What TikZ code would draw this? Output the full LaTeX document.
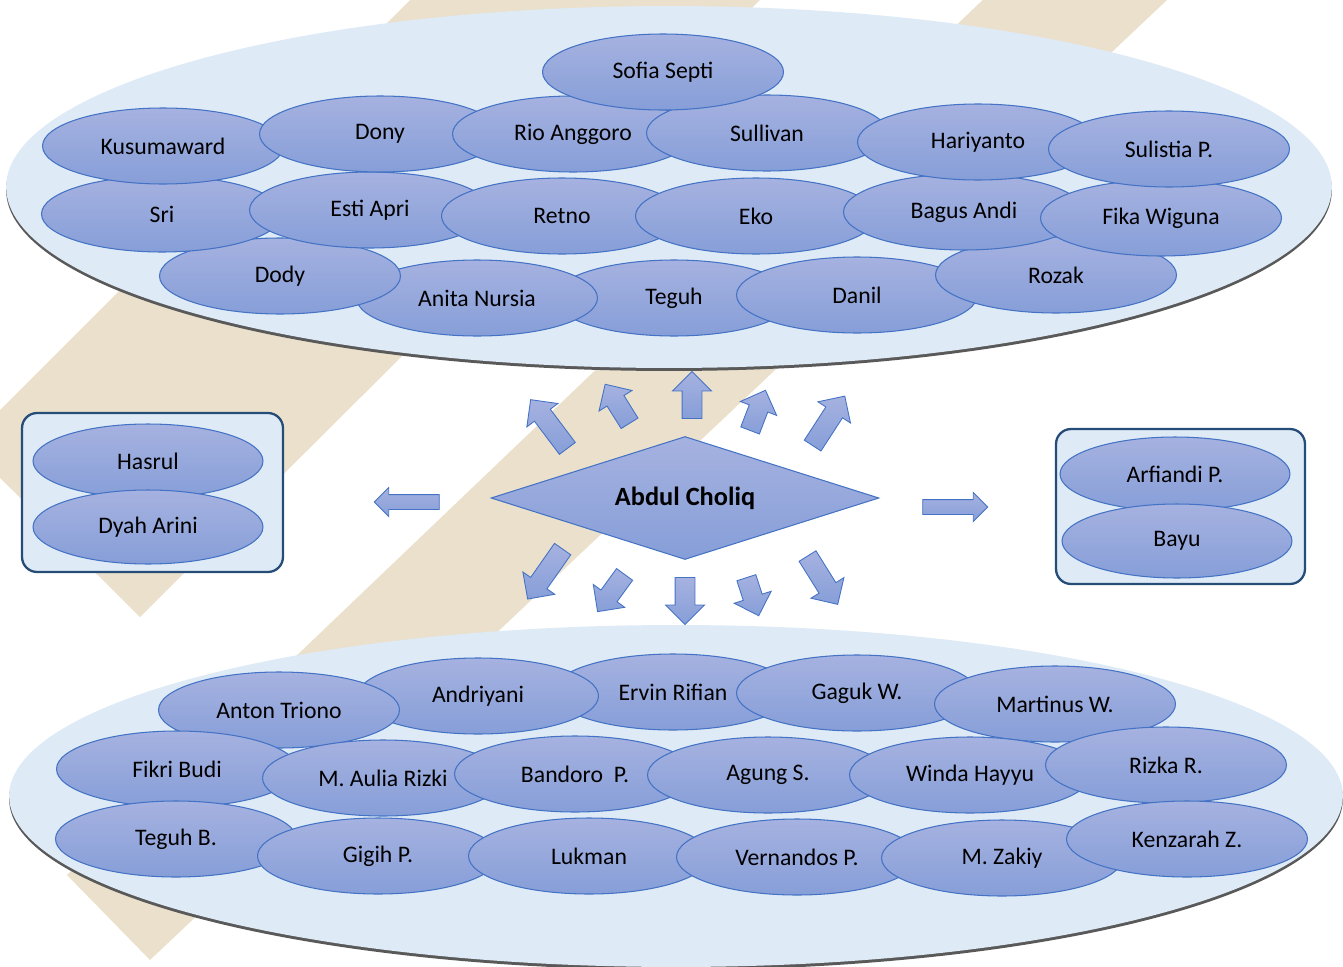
\documentclass[tikz,border=0pt]{standalone}
\usepackage{fontspec}
\setmainfont{Carlito}
\usetikzlibrary{shapes.geometric,shapes.arrows,positioning}
\definecolor{stripe}{RGB}{234,224,204}
\definecolor{plate}{RGB}{222,234,246}
\definecolor{plateshadow}{RGB}{89,89,89}
\definecolor{rim}{RGB}{68,114,196}
\definecolor{bubtop}{RGB}{166,178,224}
\definecolor{bubbot}{RGB}{134,158,216}
\definecolor{boxrim}{RGB}{38,76,120}

\begin{document}
\begin{tikzpicture}[x=0.02cm,y=-0.02cm,
member/.style={ellipse,draw=rim,line width=0.6pt,top color=bubtop,bottom color=bubbot,minimum width=4.82cm,minimum height=1.52cm,inner sep=0pt,font=\fontsize{13.5}{16}\selectfont},
sidemember/.style={member,minimum width=4.6cm,minimum height=1.48cm},
hub/.style={diamond,aspect=3.15,draw=rim,line width=0.6pt,top color=bubtop,bottom color=bubbot,minimum width=7.76cm,minimum height=2.46cm,inner sep=0pt,font=\fontsize{15}{18}\selectfont\bfseries},
group/.style={draw=boxrim,line width=1.3pt,fill=plate,rounded corners=0.3cm,inner sep=0pt},
blockarr/.style={single arrow,draw=rim,line width=0.5pt,top color=bubtop,bottom color=bubbot,single arrow tip angle=90,inner sep=0.19cm,single arrow head extend=0.19cm,minimum width=0.76cm},
sidearr/.style={blockarr,inner sep=0.14cm,single arrow head extend=0.14cm,minimum width=0.56cm,minimum height=1.3cm}]
\useasboundingbox (0,0) rectangle (1343,967);
% background stripes
\begin{scope}
\clip (0,0) rectangle (1343,967);
\fill[stripe] (460,-50) -- (810,-50) -- (140,617) -- (-34,444) -- cycle;
\fill[stripe] (1035,-50) -- (1220,-50) -- (150,960) -- (67,875) -- cycle;
\end{scope}
% plates
\fill[plateshadow] (669,190) ellipse [x radius=13.26cm,y radius=3.62cm];
\fill[plate] (669,187) ellipse [x radius=13.26cm,y radius=3.62cm];
\fill[plateshadow] (676,799) ellipse [x radius=13.34cm,y radius=3.42cm];
\fill[plate] (676,796) ellipse [x radius=13.34cm,y radius=3.42cm];
% upper group
\node[member] (teguh) at (674,298) {Teguh};
\node[member] (danil) at (857,295) {Danil};
\node[member] (rozak) at (1056,275) {Rozak};
\node[member] (anita) at (477,298) {Anita Nursia};
\node[member] (dody) at (280,276) {Dody};
\node[member] (sri) at (162,214) {Sri};
\node[member] (esti) at (370,210) {Esti Apri};
\node[member] (retno) at (562,216) {Retno};
\node[member] (eko) at (756,216) {Eko};
\node[member] (bagus) at (964,212) {Bagus Andi};
\node[member] (fika) at (1161,218) {Fika Wiguna};
\node[member] (kusuma) at (163,146) {Kusumaward};
\node[member] (dony) at (380,134) {Dony};
\node[member] (rio) at (573,134) {Rio Anggoro};
\node[member] (sullivan) at (767,133) {Sullivan};
\node[member] (hariyanto) at (978,142) {Hariyanto};
\node[member] (sulistia) at (1169,149) {Sulistia P.};
\node[member] (sofia) at (663,72) {Sofia Septi};
% lower group
\node[member] (ervin) at (673,692) {Ervin Rifian};
\node[member] (gaguk) at (857,693) {Gaguk W.};
\node[member] (martinus) at (1055,704) {Martinus W.};
\node[member] (andriyani) at (478,696) {Andriyani};
\node[member] (anton) at (279,710) {Anton Triono};
\node[member] (fikri) at (177,769) {Fikri Budi};
\node[member] (aulia) at (383,778) {M. Aulia Rizki};
\node[member] (bandoro) at (575,774) {Bandoro\ \ P.};
\node[member] (agung) at (768,775) {Agung S.};
\node[member] (winda) at (970,775) {Winda Hayyu};
\node[member] (rizka) at (1166,765) {Rizka R.};
\node[member] (teguhb) at (176,839) {Teguh B.};
\node[member] (gigih) at (378,856) {Gigih P.};
\node[member] (lukman) at (589,856) {Lukman};
\node[member] (vernandos) at (797,857) {Vernandos P.};
\node[member] (zakiy) at (1002,858) {M. Zakiy};
\node[member] (kenzarah) at (1187,839) {Kenzarah Z.};
% side groups
\node[group,minimum width=5.22cm,minimum height=3.18cm] (leftbox) at (152.5,492.5) {};
\node[sidemember] (hasrul) at (148,461) {Hasrul};
\node[sidemember] (dyah) at (148,527) {Dyah Arini};
\node[group,minimum width=4.98cm,minimum height=3.1cm] (rightbox) at (1180.5,506.5) {};
\node[sidemember] (arfiandi) at (1175,474) {Arfiandi P.};
\node[sidemember] (bayu) at (1177,541) {Bayu};
% arrows
\node[blockarr,minimum height=1.22cm,rotate=127] (up1) at (552,428) {};
\node[blockarr,minimum height=0.92cm,rotate=122] (up2) at (620,408) {};
\node[blockarr,minimum height=0.94cm,rotate=90] (up3) at (692,400) {};
\node[blockarr,minimum height=0.86cm,rotate=69] (up4) at (756,415) {};
\node[blockarr,minimum height=1.18cm,rotate=57] (up5) at (826,425) {};
\node[blockarr,minimum height=1.22cm,rotate=235] (dn1) at (548,570) {};
\node[blockarr,minimum height=0.92cm,rotate=234] (dn2) at (614,589) {};
\node[blockarr,minimum height=0.94cm,rotate=270] (dn3) at (685,596) {};
\node[blockarr,minimum height=0.8cm,rotate=288] (dn4) at (751,592) {};
\node[blockarr,minimum height=1.14cm,rotate=302] (dn5) at (820,576) {};
\node[sidearr,rotate=180] (toleft) at (410.5,502) {};
\node[sidearr] (toright) at (951.5,507) {};
\node[hub] (abdul) at (685,498) {Abdul Choliq};
\end{tikzpicture}
\end{document}
